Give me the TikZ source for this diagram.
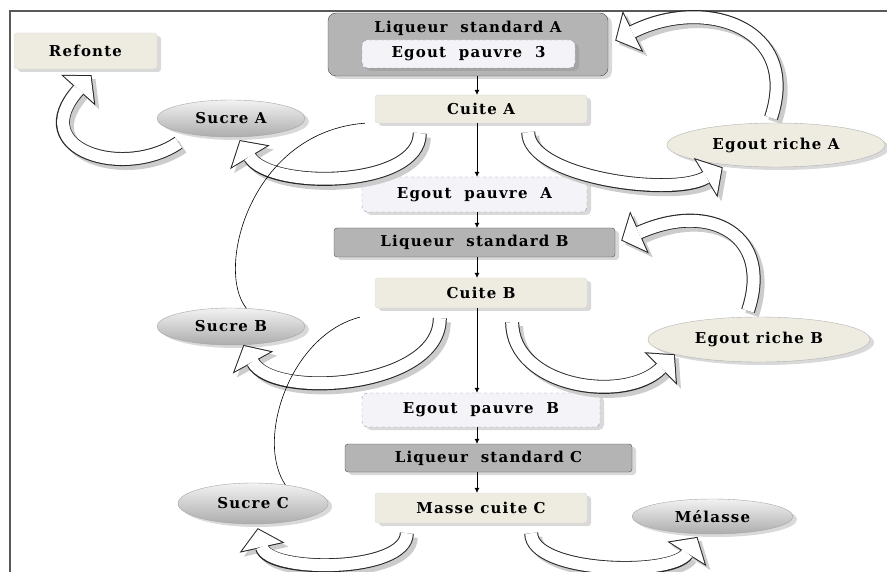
\documentclass[tikz,border=0pt]{standalone}
\usepackage{fontspec}
\setmainfont{DejaVu Serif}[LetterSpace=8]
\usetikzlibrary{arrows.meta,shapes.geometric,shadows}
\definecolor{paleBeige}{RGB}{238,236,225}
\definecolor{liqGray}{RGB}{180,180,180}
\definecolor{poorFill}{RGB}{244,244,248}
\definecolor{poorLine}{RGB}{140,140,180}

\begin{document}
\begin{tikzpicture}[x=1pt,y=-1pt,font=\fontsize{15}{17}\selectfont\bfseries,
 shad/.style={drop shadow={shadow xshift=4pt,shadow yshift=-3pt,opacity=.3}},
 liq/.style={shad,draw=black!70,fill=liqGray,rounded corners=3pt,inner sep=0pt},
 cuite/.style={shad,draw=paleBeige!85!gray,fill=paleBeige,rounded corners=3pt,inner sep=0pt,minimum width=212pt},
 poor/.style={shad,draw=poorLine,dashed,fill=poorFill,rounded corners=5pt,inner sep=0pt},
 sugar/.style={shad,ellipse,draw=gray!70,top color=gray!10,bottom color=gray!65,inner sep=0pt},
 rich/.style={shad,ellipse,draw=gray!60,fill=paleBeige,inner sep=0pt},
 link/.style={-{Latex[length=5pt,width=5pt]},line width=.6pt},
 thinc/.style={line width=.6pt},
 blk/.style={line width=14pt,draw=black!85,-{Triangle[length=20pt,width=46pt,line width=0pt]},
   preaction={draw=gray!40,line width=14pt,-{Triangle[length=20pt,width=46pt,line width=0pt]},transform canvas={xshift=4pt,yshift=-4pt}},
   postaction={draw=white,line width=12pt,shorten >=1.3pt,-{Triangle[length=17.7pt,width=40.6pt,line width=0pt]}}}]
\useasboundingbox (0,0) rectangle (887,572);
\draw[gray!70!black,line width=2pt] (10,572) -- (10,11) -- (887,11);

% main column
\node[liq,rounded corners=8pt,minimum width=280pt,minimum height=63pt,
  label={[anchor=north,inner sep=0pt,yshift=-8pt]north:Liqueur~ standard A}] (liqA) at (468,44.5) {};
\node[poor,minimum width=213pt,minimum height=28pt] (egout3) at (468.5,54) {Egout~ pauvre~ 3};
\node[cuite,minimum height=28pt] (cuiteA) at (481,109) {Cuite A};
\node[poor,minimum width=225pt,minimum height=35pt] (egoutPA) at (474.5,194.5) {Egout~ pauvre~ A};
\node[liq,minimum width=281pt,minimum height=29pt] (liqB) at (474.5,242.5) {Liqueur~ standard B};
\node[cuite,minimum height=30pt] (cuiteB) at (481,293) {Cuite B};
\node[poor,minimum width=238pt,minimum height=34pt] (egoutPB) at (481,410) {Egout~ pauvre~ B};
\node[liq,minimum width=287pt,minimum height=28pt] (liqC) at (488.5,458) {Liqueur~ standard C};
\node[cuite,minimum height=30pt] (masseC) at (481,508) {Masse cuite C};

% side products
\node[cuite,minimum width=143pt,minimum height=36pt] (refonte) at (85.5,51) {Refonte};
\node[sugar,minimum width=148pt,minimum height=37pt] (sucreA) at (231,118.5) {Sucre A};
\node[sugar,minimum width=148pt,minimum height=37pt] (sucreB) at (231,326.5) {Sucre B};
\node[sugar,minimum width=150pt,minimum height=41pt] (sucreC) at (253,503.5) {Sucre C};
\node[sugar,minimum width=161pt,minimum height=35pt] (melasse) at (712.5,516.5) {Mélasse};
\node[rich,minimum width=218pt,minimum height=44pt] (egoutRA) at (776,145) {Egout riche A};
\node[rich,minimum width=222pt,minimum height=45pt] (egoutRB) at (759,339.5) {Egout riche B};

\coordinate (axis) at (477,0);
\draw[link] (liqA.south -| axis) -- (cuiteA.north -| axis);
\draw[link] (cuiteA.south -| axis) -- (egoutPA.north -| axis);
\draw[link] (egoutPA.south -| axis) -- (liqB.north -| axis);
\draw[link] (liqB.south -| axis) -- (cuiteB.north -| axis);
\draw[link] (cuiteB.south -| axis) -- (egoutPB.north -| axis);
\draw[link] (egoutPB.south -| axis) -- (liqC.north -| axis);
\draw[link] (liqC.south -| axis) -- (masseC.north -| axis);

% curved block arrows
\draw[blk] ([yshift=-11pt]sucreA.south west) .. controls +(-54,37) and +(-67,75) .. ([shift={(6pt,-6pt)}]refonte.south);
\draw[blk] ([xshift=45pt,yshift=-10pt]cuiteA.south west) .. controls +(0,55) and +(30,50) .. ([yshift=-3pt]sucreA.-65);
\draw[blk] ([xshift=-59pt,yshift=-9pt]cuiteA.south east) .. controls +(0,45) and +(-50,30) .. ([yshift=-3pt]egoutRA.200);
\draw[blk] ([xshift=-5pt,yshift=5pt]egoutRA.north) .. controls +(30,-90) and +(90,-45) .. ([xshift=7pt,yshift=4pt]liqA.east);
\draw[blk] ([xshift=65pt,yshift=-10pt]cuiteB.south west) .. controls +(0,70) and +(30,55) .. (sucreB.-56);
\draw[blk] ([xshift=-75pt,yshift=-14pt]cuiteB.south east) .. controls +(0,65) and +(-50,50) .. (egoutRB.190);
\draw[blk] ([xshift=-11pt,yshift=6pt]egoutRB.north) .. controls +(25,-75) and +(90,-40) .. ([xshift=6pt,yshift=2pt]liqB.east);
\draw[blk] ([xshift=32pt,yshift=-10pt]masseC.south west) .. controls +(0,40) and +(10,45) .. ([yshift=-4pt]sucreC.-77);
\draw[blk] ([xshift=-56pt,yshift=-10pt]masseC.south east) .. controls +(0,40) and +(-25,40) .. ([yshift=-3pt]melasse.229);

% thin returns
\draw[thinc] ([xshift=-10pt]cuiteA.south west) .. controls (250,132) and (215,270) .. (sucreB.50);
\draw[thinc] ([xshift=-15pt,yshift=-9pt]cuiteB.south west) .. controls (290,335) and (255,440) .. (sucreC.30);
\end{tikzpicture}
\end{document}
